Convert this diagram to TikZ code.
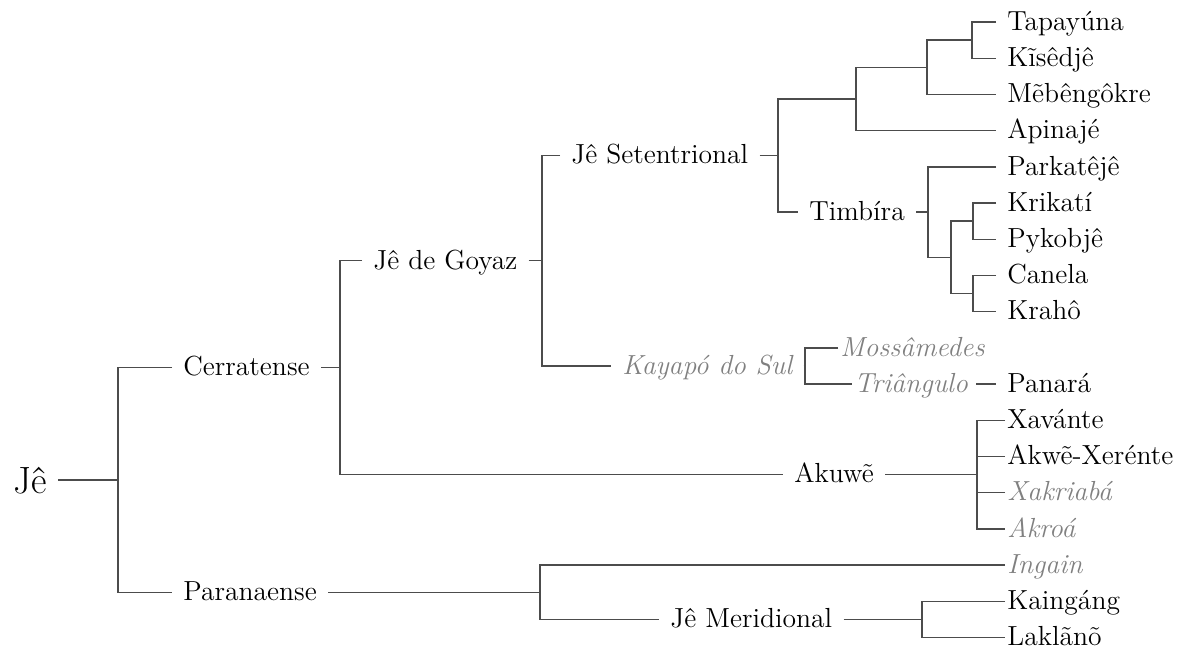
\documentclass[tikz,border=0pt]{standalone}
\usepackage{tikz}

\begin{document}
\begin{tikzpicture}[
  x=0.5pt, y=-0.5pt,
  lang/.style={inner xsep=5.5pt, inner ysep=0pt, text height=8.3pt, text depth=0pt, font=\fontsize{13.8}{16}\selectfont},
  leaf/.style={lang, anchor=west},
  tight/.style={inner xsep=1pt},
  extinct/.style={text=black!50, font=\fontsize{13.8}{16}\selectfont\itshape},
  line/.style={draw=black!70, line width=0.7pt}
]
\useasboundingbox (0,0) rectangle (1191,648);

\node [lang, anchor=east, font=\fontsize{19}{22}\selectfont, text height=13.3pt] (je) at (58,479.9) {Jê};
\node [leaf] (cerr) at (172,367.6) {Cerratense};
\node [leaf] (para) at (172,592.2) {Paranaense};
\node [leaf] (goyaz) at (362,260.7) {Jê de Goyaz};
\node [leaf] (akuwe) at (783,474.5) {Akuwẽ};
\node [leaf] (seten) at (560,155.5) {Jê Setentrional};
\node [leaf, extinct] (kayapo) at (611,365.9) {Kayapó do Sul};
\node [leaf] (timbira) at (798,212.05) {Timbíra};
\node [leaf] (merid) at (659,619.3) {Jê Meridional};

\node [leaf] (tapayuna) at (996,22) {Tapayúna};
\node [leaf] (kisedje) at (996,58.2) {Kĩsêdjê};
\node [leaf] (mebengokre) at (996,94.4) {Mẽbêngôkre};
\node [leaf] (apinaje) at (996,130.6) {Apinajé};
\node [leaf] (parkateje) at (996,166.8) {Parkatêjê};
\node [leaf] (krikati) at (996,203) {Krikatí};
\node [leaf] (pykobje) at (996,239.2) {Pykobjê};
\node [leaf] (canela) at (996,275.4) {Canela};
\node [leaf] (kraho) at (996,311.6) {Krahô};
\node [leaf, extinct, tight] (mossamedes) at (838,347.8) {Mossâmedes};
\node [leaf, extinct, tight] (triangulo) at (852,384) {Triângulo};
\node [leaf] (panara) at (996,384) {Panará};
\node [leaf, tight] (xavante) at (1005,420.2) {Xavánte};
\node [leaf, tight] (akwe) at (1005,456.4) {Akwẽ-Xerénte};
\node [leaf, extinct, tight] (xakriaba) at (1005,492.6) {Xakriabá};
\node [leaf, extinct, tight] (akroa) at (1005,528.8) {Akroá};
\node [leaf, extinct, tight] (ingain) at (1005,565) {Ingain};
\node [leaf, tight] (kaingang) at (1005,601.2) {Kaingáng};
\node [leaf, tight] (laklano) at (1005,637.4) {Laklãnõ};

\coordinate (kJe) at (118,479.9);
\coordinate (kCerr) at (340,367.6);
\coordinate (kGoyaz) at (542,260.7);
\coordinate (kSeten) at (778,155.5);
\coordinate (kNorth) at (856,98.9);
\coordinate (kMeb) at (927,67.25);
\coordinate (kKis) at (972,40.1);
\coordinate (kTimb) at (928,212.05);
\coordinate (kEast) at (951,257.3);
\coordinate (kKri) at (973,221.1);
\coordinate (kCan) at (973,293.5);
\coordinate (kKay) at (805,365.9);
\coordinate (kAku) at (977,474.5);
\coordinate (kPara) at (540,592.2);
\coordinate (kMer) at (922,619.3);

\draw [line] (je) -- (kJe);
\draw [line] (cerr.west) -| (kJe) |- (para.west);
\draw [line] (cerr) -- (kCerr);
\draw [line] (goyaz.west) -| (kCerr) |- (akuwe.west);
\draw [line] (goyaz) -- (kGoyaz);
\draw [line] (seten.west) -| (kGoyaz) |- (kayapo.west);
\draw [line] (seten) -- (kSeten);
\draw [line] (kNorth) -| (kSeten) |- (timbira.west);
\draw [line] (kMeb) -| (kNorth) |- (apinaje.west);
\draw [line] (kKis) -| (kMeb) |- (mebengokre.west);
\draw [line] (tapayuna.west) -| (kKis) |- (kisedje.west);
\draw [line] (timbira) -- (kTimb);
\draw [line] (parkateje.west) -| (kTimb) |- (kEast);
\draw [line] (kKri) -| (kEast) |- (kCan);
\draw [line] (krikati.west) -| (kKri) |- (pykobje.west);
\draw [line] (canela.west) -| (kCan) |- (kraho.west);
\draw [line] (kayapo) -- (kKay);
\draw [line] (mossamedes.west) -| (kKay) |- (triangulo.west);
\draw [line, shorten <=3pt] (triangulo) -- (panara);
\draw [line] (akuwe) -- (kAku);
\draw [line] (xavante.west) -| (kAku) |- (akroa.west);
\draw [line] (akwe.west) -- (akwe.west -| kAku);
\draw [line] (xakriaba.west) -- (xakriaba.west -| kAku);
\draw [line] (para) -- (kPara);
\draw [line] (ingain.west) -| (kPara) |- (merid.west);
\draw [line] (merid) -- (kMer);
\draw [line] (kaingang.west) -| (kMer) |- (laklano.west);
\end{tikzpicture}
\end{document}
